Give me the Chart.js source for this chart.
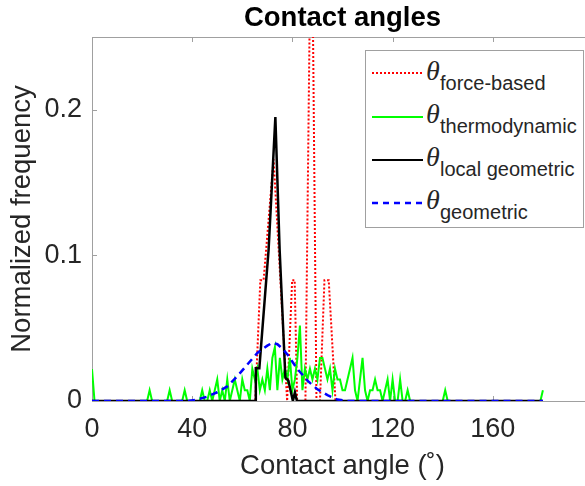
<!DOCTYPE html>
<html>
<head>
<meta charset="utf-8">
<script src="https://cdn.jsdelivr.net/npm/chart.js@4/dist/chart.umd.min.js"></script>
<style>
  html, body { margin: 0; padding: 0; background: #fff; overflow: hidden; }
  #wrap { position: relative; width: 600px; height: 486px; }
  #legend { position: absolute; left: 0; top: 0; pointer-events: none; }
</style>
</head>
<body>
<div id="wrap">
  <canvas id="chart" width="600" height="486"></canvas>
  <svg id="legend" width="600" height="486" xmlns="http://www.w3.org/2000/svg">
    <rect x="365.5" y="50.5" width="218" height="177" fill="#ffffff" stroke="#a0a0a0" stroke-width="1"/>
    <line x1="372" y1="73" x2="423" y2="73" stroke="#ff0000" stroke-width="2" stroke-dasharray="2,2"/>
    <line x1="372" y1="117" x2="423" y2="117" stroke="#00ff00" stroke-width="2"/>
    <line x1="372" y1="160" x2="423" y2="160" stroke="#000000" stroke-width="2"/>
    <line x1="372" y1="203" x2="423" y2="203" stroke="#0000ff" stroke-width="2.5" stroke-dasharray="6,5"/>
    <g font-family="Liberation Sans, Arial, sans-serif" fill="#262626">
      <text x="426" y="80" font-family="Liberation Serif, Times New Roman, serif" font-style="italic" font-size="28">θ</text>
      <text x="440" y="90" font-size="20">force-based</text>
      <text x="426" y="123" font-family="Liberation Serif, Times New Roman, serif" font-style="italic" font-size="28">θ</text>
      <text x="440" y="133" font-size="20">thermodynamic</text>
      <text x="426" y="166" font-family="Liberation Serif, Times New Roman, serif" font-style="italic" font-size="28">θ</text>
      <text x="440" y="176" font-size="20">local geometric</text>
      <text x="426" y="209" font-family="Liberation Serif, Times New Roman, serif" font-style="italic" font-size="28">θ</text>
      <text x="440" y="219" font-size="20">geometric</text>
    </g>
  </svg>
</div>
<script>
// ---- data ----
const xTickValues = [0, 40, 80, 120, 160];
const yTickValues = [0, 0.1, 0.2];

// force-based (red dotted)
const forceAngles = [0, 65.2, 67.2, 68.5, 72.5, 77.9, 79.9, 80.9, 81.9, 85.2, 87.6, 89.6, 91.0, 92.8, 94.5, 97.2, 180];
const forceFreq   = [0, 0, 0.083, 0.083, 0.166, 0, 0.083, 0.083, 0, 0, 0.37, 0, 0, 0.083, 0.083, 0, 0];

// thermodynamic (green), 1-degree bins from 0 to 180
const thermoFreq = [
  0.022, 0, 0, 0, 0, 0, 0, 0, 0, 0,
  0, 0, 0, 0, 0, 0, 0, 0, 0, 0,
  0, 0, 0, 0.0074, 0, 0, 0, 0, 0, 0,
  0, 0.0074, 0, 0, 0, 0, 0, 0.0074, 0, 0,
  0, 0, 0, 0, 0.0074, 0, 0, 0.0074, 0, 0.0074,
  0.0148, 0, 0.0074, 0, 0.0148, 0, 0.0074, 0.0148, 0.0074, 0,
  0.0148, 0.0074, 0.0074, 0, 0.0222, 0.0148, 0.0222, 0.0074, 0.0148, 0.0074,
  0.0222, 0.0074, 0.0296, 0.037, 0.0074, 0.0296, 0.0148, 0.0222, 0.0148, 0.0296,
  0.0074, 0.0148, 0.0296, 0.0518, 0.0074, 0.0222, 0.0148, 0.0222, 0.0148, 0.0222,
  0.0148, 0.0296, 0.0296, 0.0222, 0.0148, 0.0222, 0.0074, 0.0222, 0.0148, 0.0148,
  0.0074, 0.0074, 0.0148, 0.0222, 0.0296, 0.0074, 0, 0.0148, 0.0296, 0.0074,
  0, 0.0074, 0.0074, 0.0148, 0.0074, 0.0074, 0, 0.0074, 0.0148, 0,
  0.0148, 0, 0, 0.0148, 0, 0, 0.0074, 0, 0, 0,
  0, 0, 0, 0, 0, 0, 0, 0, 0, 0,
  0, 0.0074, 0, 0, 0, 0, 0, 0, 0, 0,
  0, 0, 0, 0, 0, 0, 0, 0, 0, 0,
  0, 0, 0, 0, 0, 0, 0, 0, 0, 0,
  0, 0, 0, 0, 0, 0, 0, 0, 0, 0,
  0.0074
];
const thermoAngles = thermoFreq.map((_, i) => i);

// local geometric (black)
const localAngles = [0, 65.2, 65.4, 66.8, 70.5, 73.2, 74.9, 77.2, 78.4, 80.2, 81.0, 81.8, 180];
const localFreq   = [0, 0, 0.0225, 0.0225, 0.104, 0.195, 0.104, 0.016, 0.014, 0, 0.006, 0, 0];

// geometric (blue dashed)
const geomAngles = [0, 38, 42, 46, 50, 54, 58, 62, 66, 70, 72, 74, 76, 78, 80, 82, 84, 86, 88, 90, 94, 98, 102, 180];
const geomFreq   = [0, 0, 0.001, 0.003, 0.006, 0.010, 0.017, 0.025, 0.033, 0.038, 0.040, 0.039, 0.036, 0.032, 0.027, 0.022, 0.018, 0.014, 0.011, 0.008, 0.004, 0.001, 0, 0];

const pts = (xs, ys) => xs.map((x, i) => ({ x: x, y: ys[i] }));

const FONT = 'Liberation Sans, Arial, Helvetica, sans-serif';
const TXT = '#262626';
const AXIS = '#a0a0a0';

const boxPlugin = {
  id: 'matlabBox',
  beforeDatasetsDraw(chart) {
    const { ctx, chartArea: a, scales } = chart;
    ctx.save();
    ctx.strokeStyle = AXIS;
    ctx.lineWidth = 1;
    ctx.strokeRect(Math.round(a.left) + 0.5, Math.round(a.top) + 0.5,
                   Math.round(a.right - a.left), Math.round(a.bottom - a.top));
    const tl = 5;
    ctx.beginPath();
    scales.x.ticks.forEach(t => {
      const px = Math.round(scales.x.getPixelForValue(t.value)) + 0.5;
      ctx.moveTo(px, a.bottom); ctx.lineTo(px, a.bottom - tl);
      ctx.moveTo(px, a.top); ctx.lineTo(px, a.top + tl);
    });
    scales.y.ticks.forEach(t => {
      const py = Math.round(scales.y.getPixelForValue(t.value)) + 0.5;
      ctx.moveTo(a.left, py); ctx.lineTo(a.left + tl, py);
      ctx.moveTo(a.right, py); ctx.lineTo(a.right - tl, py);
    });
    ctx.stroke();
    ctx.restore();
  }
};

new Chart(document.getElementById('chart'), {
  type: 'line',
  data: {
    datasets: [
      { label: 'θforce-based', data: pts(forceAngles, forceFreq), borderColor: '#ff0000',
        borderWidth: 2, borderDash: [2, 2], order: 4 },
      { label: 'θthermodynamic', data: pts(thermoAngles, thermoFreq), borderColor: '#00ff00',
        borderWidth: 2, order: 3 },
      { label: 'θlocal geometric', data: pts(localAngles, localFreq), borderColor: '#000000',
        borderWidth: 2.5, order: 2 },
      { label: 'θgeometric', data: pts(geomAngles, geomFreq), borderColor: '#0000ff',
        borderWidth: 2.5, borderDash: [7, 5], order: 1 }
    ]
  },
  options: {
    responsive: false,
    animation: false,
    devicePixelRatio: 1,
    layout: { padding: { left: 0, right: 7, top: 0, bottom: 0 } },
    elements: { point: { radius: 0 }, line: { tension: 0, fill: false } },
    plugins: {
      legend: { display: false },
      tooltip: { enabled: false },
      title: {
        display: true, text: 'Contact angles', color: '#000', fullSize: false,
        font: { family: FONT, size: 27.5, weight: 'bold' }, padding: { top: 2, bottom: 2 }
      }
    },
    scales: {
      x: {
        type: 'linear', min: 0, max: 200,
        afterBuildTicks: s => { s.ticks = xTickValues.map(v => ({ value: v })); },
        afterFit: s => { s.height = 85; },
        grid: { display: false, drawTicks: false },
        border: { display: false },
        ticks: { color: TXT, font: { family: FONT, size: 27 }, padding: 12, maxRotation: 0,
                 callback: v => String(v) },
        title: { display: true, text: 'Contact angle (˚)', color: TXT,
                 font: { family: FONT, size: 27.5 }, padding: { top: 0, bottom: 3 } }
      },
      y: {
        type: 'linear', min: 0, max: 0.25,
        afterBuildTicks: s => { s.ticks = yTickValues.map(v => ({ value: v })); },
        afterFit: s => { s.width = 92; },
        grid: { display: false, drawTicks: false },
        border: { display: false },
        ticks: { color: TXT, font: { family: FONT, size: 27 }, padding: 10,
                 callback: v => String(v) },
        title: { display: true, text: 'Normalized frequency', color: TXT,
                 font: { family: FONT, size: 27.5 }, padding: { top: 6, bottom: 0 } }
      }
    }
  },
  plugins: [boxPlugin]
});
</script>
</body>
</html>
